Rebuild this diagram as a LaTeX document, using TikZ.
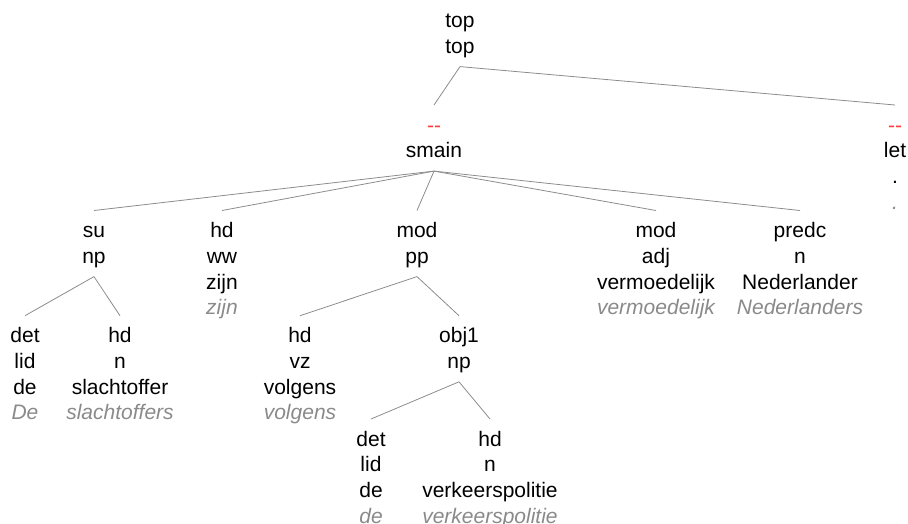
\documentclass[tikz,border=0pt]{standalone}
\usepackage{fontspec}
\setmainfont{Liberation Sans}
\definecolor{linegray}{HTML}{8C8C8C}
\definecolor{wordgray}{HTML}{8A8A8A}
\definecolor{markred}{HTML}{FF3B3B}
\newcommand\wordit[1]{\textcolor{wordgray}{\itshape #1}}
\newcommand\redmark{\textcolor{markred}{-{}-}}
\begin{document}
\begin{tikzpicture}[x=1pt,y=-1pt,
  tnode/.style={anchor=north,inner sep=0pt,align=center,
    font=\fontsize{21}{25.7}\selectfont\strut},
  edge/.style={draw=linegray,line width=0.8pt}]
\useasboundingbox (0,0) rectangle (908,523);
\node[tnode] (top) at (460,9.5) {top\strut\\top\strut};
\node[tnode] (smain) at (434,114) {\redmark\strut\\smain\strut};
\node[tnode] (let) at (895,114) {\redmark\strut\\let\strut\\.\strut\\\wordit{.}\strut};
\node[tnode] (su) at (94,219.5) {su\strut\\np\strut};
\node[tnode] (hdww) at (222,219.5) {hd\strut\\ww\strut\\zijn\strut\\\wordit{zijn}\strut};
\node[tnode] (modpp) at (417,219.5) {mod\strut\\pp\strut};
\node[tnode] (modadj) at (656,219.5) {mod\strut\\adj\strut\\vermoedelijk\strut\\\wordit{vermoedelijk}\strut};
\node[tnode] (predc) at (800,219.5) {predc\strut\\n\strut\\Nederlander\strut\\\wordit{Nederlanders}\strut};
\node[tnode] (detA) at (25,324.7) {det\strut\\lid\strut\\de\strut\\\wordit{De}\strut};
\node[tnode] (hdA) at (120,324.7) {hd\strut\\n\strut\\slachtoffer\strut\\\wordit{slachtoffers}\strut};
\node[tnode] (hdvz) at (300,324.7) {hd\strut\\vz\strut\\volgens\strut\\\wordit{volgens}\strut};
\node[tnode] (obj) at (459,324.7) {obj1\strut\\np\strut};
\node[tnode] (detB) at (371,428) {det\strut\\lid\strut\\de\strut\\\wordit{de}\strut};
\node[tnode] (hdB) at (490,428) {hd\strut\\n\strut\\verkeerspolitie\strut\\\wordit{verkeerspolitie}\strut};
\foreach \p/\c in {top/smain,top/let,smain/su,smain/hdww,smain/modpp,smain/modadj,smain/predc,
  su/detA,su/hdA,modpp/hdvz,modpp/obj,obj/detB,obj/hdB}
  \draw[edge] ([yshift=-5.3pt]\p.south) -- ([yshift=9pt]\c.north);
\end{tikzpicture}
\end{document}
